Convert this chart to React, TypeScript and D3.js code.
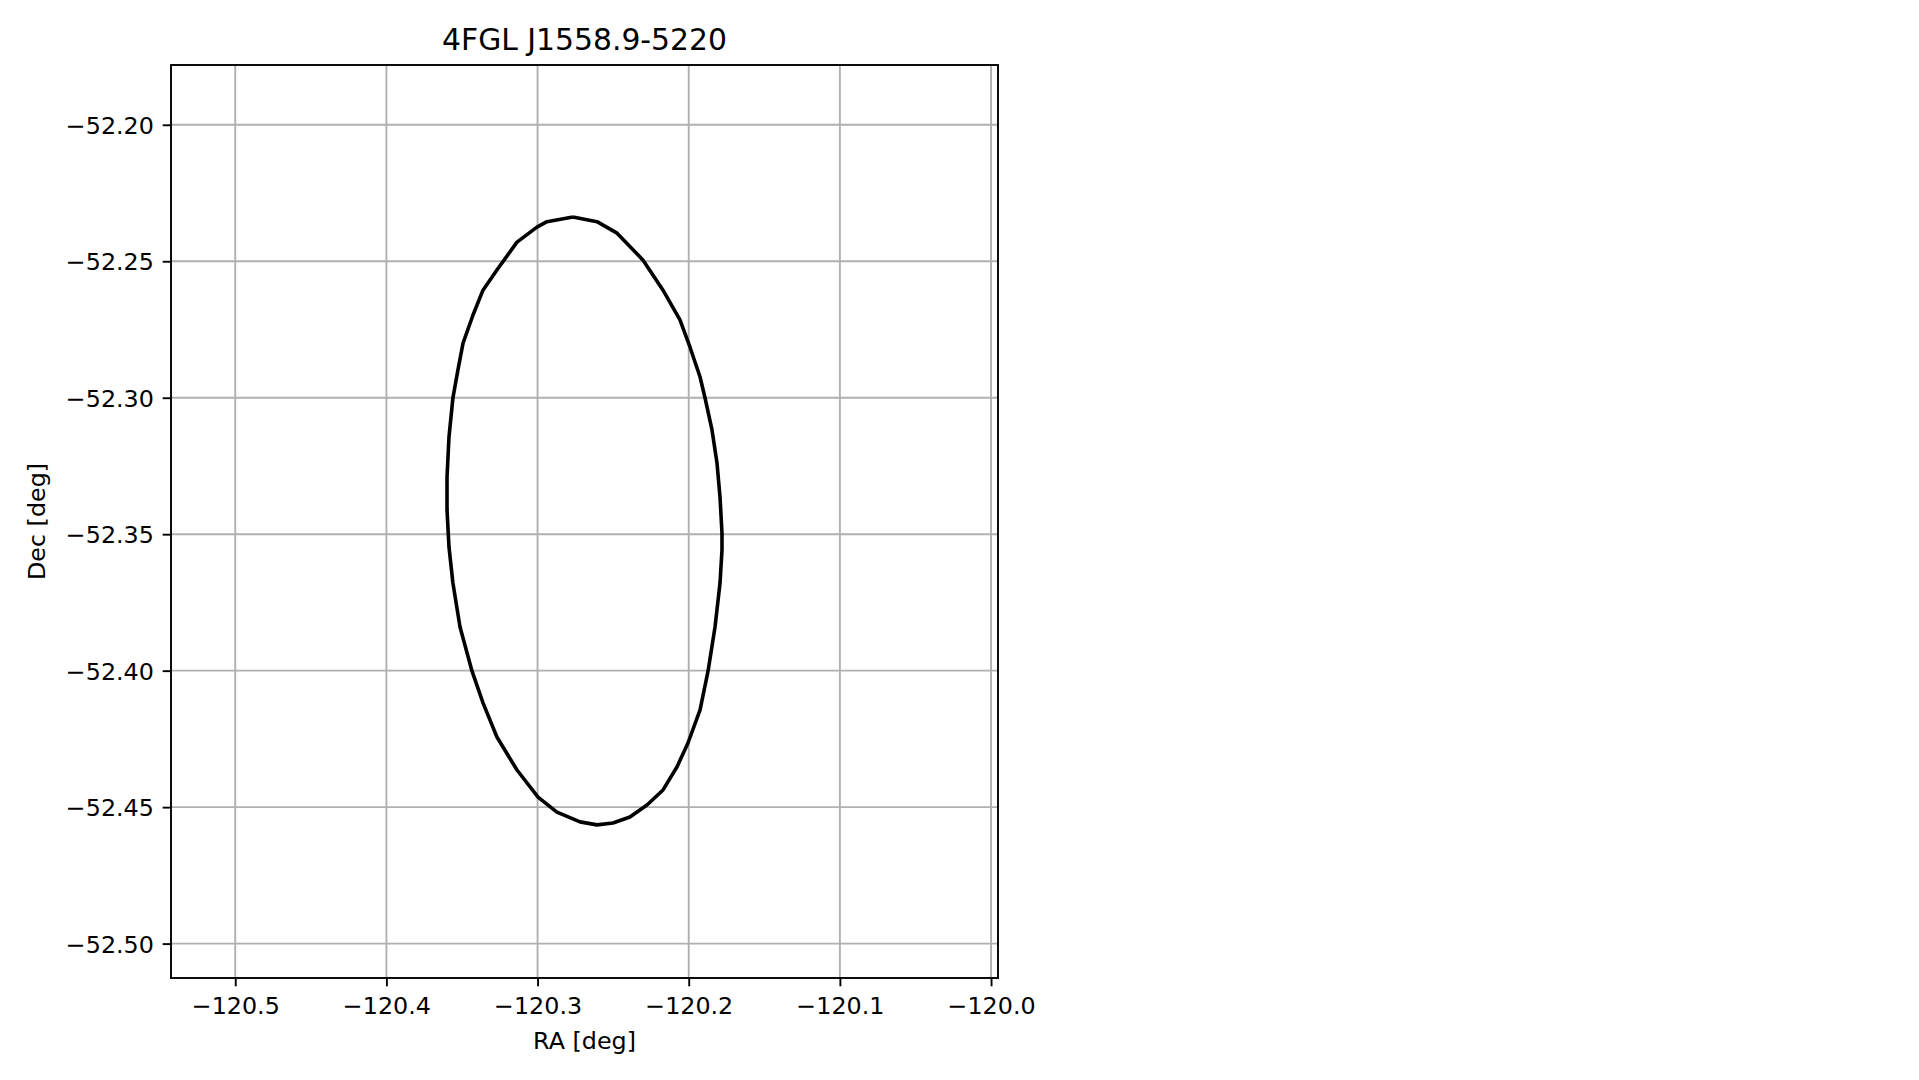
import React, { useEffect, useRef } from 'react';
import * as d3 from 'd3';

// error ellipse outline (RA, Dec in degrees)
const raValues = [
  -120.2766, -120.2607, -120.2474, -120.2302, -120.2170, -120.2058, -120.1992, -120.1925,
  -120.1892, -120.1846, -120.1813, -120.1793, -120.1780, -120.1780, -120.1793, -120.1826,
  -120.1872, -120.1925, -120.2005, -120.2078, -120.2170, -120.2276, -120.2389, -120.2501,
  -120.2607, -120.2719, -120.2872, -120.2997, -120.3136, -120.3269, -120.3361, -120.3434,
  -120.3513, -120.3560, -120.3586, -120.3599, -120.3599, -120.3586, -120.3560, -120.3527,
  -120.3493, -120.3427, -120.3361, -120.3269, -120.3136, -120.3004, -120.2938, -120.2766,
];
const decValues = [
  -52.2338, -52.2355, -52.2397, -52.2496, -52.2606, -52.2715, -52.2814, -52.2924,
  -52.3001, -52.3118, -52.3239, -52.3364, -52.3496, -52.3558, -52.3679, -52.3840,
  -52.4001, -52.4144, -52.4265, -52.4353, -52.4437, -52.4492, -52.4536, -52.4558,
  -52.4565, -52.4554, -52.4518, -52.4463, -52.4364, -52.4243, -52.4118, -52.4001,
  -52.3840, -52.3679, -52.3547, -52.3411, -52.3291, -52.3144, -52.3001, -52.2899,
  -52.2800, -52.2697, -52.2606, -52.2532, -52.2430, -52.2375, -52.2355, -52.2338,
];

const xTicks = [-120.5, -120.4, -120.3, -120.2, -120.1, -120.0];
const yTicks = [-52.2, -52.25, -52.3, -52.35, -52.4, -52.45, -52.5];
const xDomain = [-120.5425, -119.9954];
const yDomain = [-52.5126, -52.1781];

const title = '4FGL J1558.9-5220';
const xLabel = 'RA [deg]';
const yLabel = 'Dec [deg]';

const fmt = (d: number, n: number) => d.toFixed(n).replace('-', '\u2212');

function EllipsePlot() {
  const ref = useRef<SVGSVGElement>(null);

  useEffect(() => {
    const svg = d3.select(ref.current);
    svg.selectAll('*').remove();
    const margin = { top: 65, right: 921, bottom: 102, left: 171 };
    const width = 1919 - margin.left - margin.right;
    const height = 1080 - margin.top - margin.bottom;
    const font = 'DejaVu Sans';

    const g = svg.append('g')
      .attr('transform', 'translate(' + margin.left + ',' + margin.top + ')');

    const x = d3.scaleLinear().domain(xDomain).range([0, width]);
    const y = d3.scaleLinear().domain(yDomain).range([height, 0]);

    // grid
    g.append('g').selectAll('line').data(xTicks).join('line')
      .attr('x1', d => x(d)).attr('x2', d => x(d))
      .attr('y1', 0).attr('y2', height)
      .attr('stroke', '#b0b0b0').attr('stroke-width', 1.9);
    g.append('g').selectAll('line').data(yTicks).join('line')
      .attr('y1', d => y(d)).attr('y2', d => y(d))
      .attr('x1', 0).attr('x2', width)
      .attr('stroke', '#b0b0b0').attr('stroke-width', 1.9);

    // ellipse
    const pts = raValues.map((r, i) => [r, decValues[i]] as [number, number]);
    g.append('path')
      .datum(pts)
      .attr('fill', 'none')
      .attr('stroke', '#000')
      .attr('stroke-width', 3.6)
      .attr('stroke-linejoin', 'round')
      .attr('d', d3.line<[number, number]>()
        .x(d => x(d[0]))
        .y(d => y(d[1]))
      );

    // axes
    const xAxis = g.append('g')
      .attr('transform', 'translate(0,' + height + ')')
      .call(d3.axisBottom(x).tickValues(xTicks).tickSize(8.3).tickPadding(8.3)
        .tickFormat(d => fmt(+d, 1)));
    const yAxis = g.append('g')
      .call(d3.axisLeft(y).tickValues(yTicks).tickSize(8.3).tickPadding(8.8)
        .tickFormat(d => fmt(+d, 2)));
    [xAxis, yAxis].forEach(a => {
      a.select('.domain').remove();
      a.selectAll('line').attr('stroke', '#000').attr('stroke-width', 1.9);
      a.selectAll('text').attr('font-family', font).attr('font-size', 23.8).attr('fill', '#000');
    });
    xAxis.selectAll('text').attr('dy', null).attr('y', 36);
    yAxis.selectAll('text').attr('dy', '0.36em');

    // spines
    g.append('rect')
      .attr('width', width).attr('height', height)
      .attr('fill', 'none').attr('stroke', '#000').attr('stroke-width', 1.9);

    // labels
    svg.append('text')
      .attr('x', margin.left + width / 2).attr('y', 50)
      .attr('text-anchor', 'middle')
      .attr('font-family', font).attr('font-size', 29.8)
      .text(title);
    svg.append('text')
      .attr('x', margin.left + width / 2).attr('y', 1049)
      .attr('text-anchor', 'middle')
      .attr('font-family', font).attr('font-size', 23.8)
      .text(xLabel);
    svg.append('text')
      .attr('transform', 'translate(45,' + (margin.top + height / 2) + ') rotate(-90)')
      .attr('text-anchor', 'middle')
      .attr('font-family', font).attr('font-size', 23.8)
      .text(yLabel);
  }, []);

  return (
    <svg ref={ref} width="1919" height="1080"
      style={{ position: 'absolute', left: 0, top: 0, background: '#fff' }} />
  );
}

export default function App() {
  return <EllipsePlot />;
}
